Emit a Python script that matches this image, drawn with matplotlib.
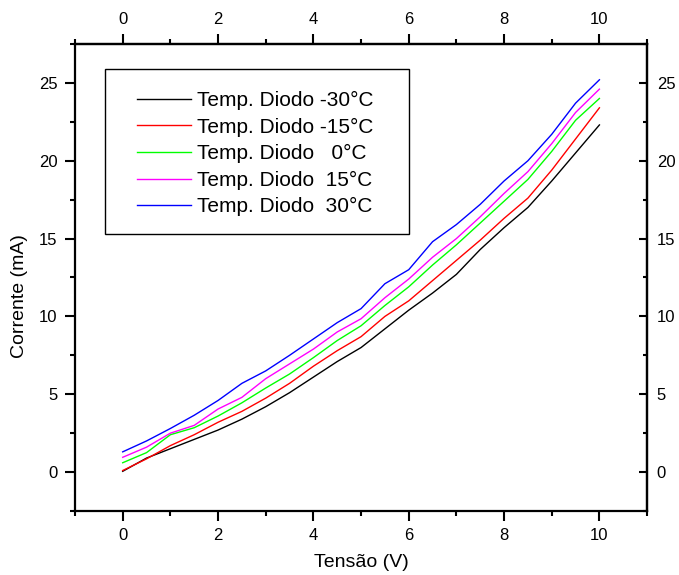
import matplotlib
matplotlib.use("Agg")
import matplotlib.pyplot as plt
from matplotlib.ticker import MultipleLocator, FixedLocator
from matplotlib.patches import Rectangle

plt.rcParams['font.family'] = ['Liberation Sans', 'DejaVu Sans']

tensao = [0, 0.5, 1, 1.5, 2, 2.5, 3, 3.5, 4, 4.5, 5,
          5.5, 6, 6.5, 7, 7.5, 8, 8.5, 9, 9.5, 10]

temp_m30 = [0.05, 0.9, 1.5, 2.1, 2.7, 3.4, 4.2, 5.1, 6.1, 7.1, 8.0,
            9.2, 10.4, 11.5, 12.7, 14.3, 15.7, 17.0, 18.7, 20.5, 22.3]
temp_m15 = [0.1, 0.85, 1.7, 2.4, 3.2, 3.9, 4.75, 5.7, 6.8, 7.8, 8.7,
            10.0, 11.0, 12.3, 13.6, 14.9, 16.3, 17.6, 19.4, 21.4, 23.4]
temp_0 = [0.6, 1.25, 2.4, 2.85, 3.6, 4.45, 5.4, 6.3, 7.35, 8.45, 9.4,
          10.7, 11.9, 13.3, 14.6, 16.0, 17.4, 18.8, 20.6, 22.6, 24.0]
temp_15 = [0.95, 1.6, 2.5, 3.0, 4.05, 4.8, 6.0, 6.95, 7.9, 9.0, 9.85,
           11.2, 12.4, 13.8, 15.0, 16.4, 17.9, 19.3, 21.1, 23.1, 24.6]
temp_30 = [1.3, 2.0, 2.8, 3.65, 4.6, 5.7, 6.5, 7.5, 8.55, 9.6, 10.5,
           12.1, 13.0, 14.8, 15.9, 17.2, 18.7, 20.0, 21.7, 23.7, 25.2]

series = [temp_m30, temp_m15, temp_0, temp_15, temp_30]
labels = ["Temp. Diodo -30°C", "Temp. Diodo -15°C", "Temp. Diodo   0°C",
          "Temp. Diodo  15°C", "Temp. Diodo  30°C"]
colors = ["black", "#ff0000", "#00ff00", "#ff00ff", "#0000ff"]
x_ticks = [0, 2, 4, 6, 8, 10]
y_ticks = [0, 5, 10, 15, 20, 25]

fig = plt.figure(figsize=(6.79, 5.75), dpi=100)
ax = fig.add_axes([0.1105, 0.1113, 0.8425, 0.8122])

for ys, lab, c in zip(series, labels, colors):
    ax.plot(tensao, ys, color=c, lw=1.0, label=lab)

ax.set_xlim(-1, 11)
ax.set_ylim(-2.5, 27.5)
ax.xaxis.set_major_locator(FixedLocator(x_ticks))
ax.xaxis.set_minor_locator(MultipleLocator(1))
ax.yaxis.set_major_locator(FixedLocator(y_ticks))
ax.yaxis.set_minor_locator(MultipleLocator(2.5))

ax.tick_params(which='both', direction='out', labelsize=12, width=1.5, pad=5)
ax.tick_params(which='major', length=7.5)
ax.tick_params(which='minor', length=3.5)
for s in ax.spines.values():
    s.set_linewidth(1.6)

# top and right axes, Origin style
top = ax.secondary_xaxis('top')
top.xaxis.set_major_locator(FixedLocator(x_ticks))
top.xaxis.set_minor_locator(MultipleLocator(1))
top.tick_params(which='both', direction='out', labelsize=12, width=1.5, pad=5)
top.tick_params(which='major', length=7.5)
top.tick_params(which='minor', length=3.5)
top.spines['top'].set_linewidth(1.6)

right = ax.secondary_yaxis('right')
right.yaxis.set_major_locator(FixedLocator(y_ticks))
right.yaxis.set_minor_locator(MultipleLocator(2.5))
right.tick_params(which='both', direction='in', labelsize=12, width=1.5, pad=7)
right.tick_params(which='major', length=6)
right.tick_params(which='minor', length=3)
right.spines['right'].set_linewidth(1.6)

ax.set_xlabel("Tensão (V)", fontsize=14, labelpad=8)
ax.set_ylabel("Corrente (mA)", fontsize=14)
ax.yaxis.set_label_coords(-0.082, 0.46)

ax.add_patch(Rectangle((0.0524, 0.593), 0.5315, 0.353, transform=ax.transAxes,
                       facecolor='white', edgecolor='black', lw=1.0, zorder=4))
leg = ax.legend(loc='upper left', bbox_to_anchor=(0.1084, 0.899),
                borderaxespad=0, borderpad=0, fontsize=15, handlelength=2.6,
                handletextpad=0.3, labelspacing=0.36, frameon=False)
leg.set_zorder(5)

fig.savefig("out.png", dpi=100)
